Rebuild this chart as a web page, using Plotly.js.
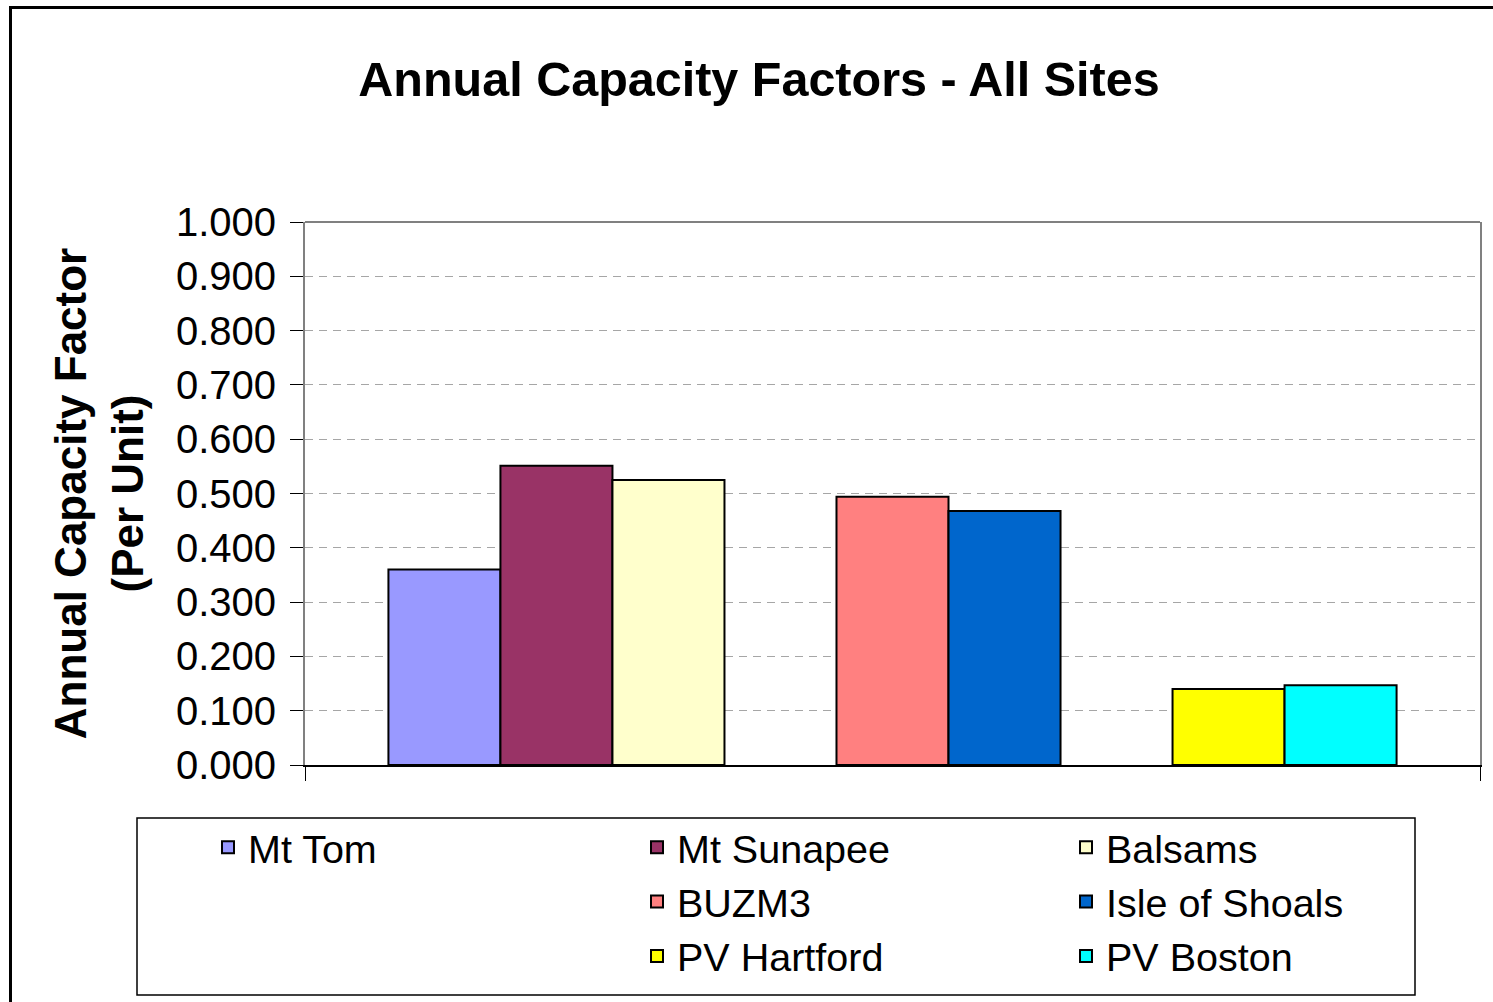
<!DOCTYPE html>
<html>
<head>
<meta charset="utf-8">
<script src="https://cdn.plot.ly/plotly-3.0.1.min.js"></script>
<style>
  html, body { margin: 0; padding: 0; background: #ffffff; overflow: hidden; }
  #chart { width: 1493px; height: 1002px; position: absolute; left: 0; top: 0; }
  #frame { position: absolute; left: 9px; top: 6px; width: 1600px; height: 1100px;
           border: 3px solid #000; pointer-events: none; z-index: 5; }
</style>
</head>
<body>
<div id="chart"></div>
<div id="frame"></div>
<script>
// ---- data ----
const category = ["All Sites"];
const seriesNames = ["Mt Tom", "Mt Sunapee", "Balsams", " ", "BUZM3", "Isle of Shoals", "  ", "PV Hartford", "PV Boston"];
const capacityFactors = [0.360, 0.551, 0.525, null, 0.494, 0.468, null, 0.140, 0.147];
const seriesColors = ["#9999FF", "#993366", "#FFFFCC", "rgba(0,0,0,0)", "#FF8080", "#0066CC", "rgba(0,0,0,0)", "#FFFF00", "#00FFFF"];
const yTickValues = [0, 0.1, 0.2, 0.3, 0.4, 0.5, 0.6, 0.7, 0.8, 0.9, 1.0];

// ---- layout helpers ----
const W = 1493, H = 1002;
const M = { l: 305, r: 13, t: 222, b: 237 };
const plotW = W - M.l - M.r, plotH = H - M.t - M.b;
const px2x = p => (p - M.l) / plotW;
const px2y = p => (H - M.b - p) / plotH;

const FONT = '"Liberation Sans", Arial, sans-serif';

const traces = seriesNames.map((name, i) => {
  const spacer = name.trim() === "";
  return {
    type: "bar",
    x: category,
    y: [capacityFactors[i]],
    name: name,
    marker: {
      color: seriesColors[i],
      line: { color: spacer ? "rgba(0,0,0,0)" : "#000000", width: spacer ? 0 : 2 }
    },
    hoverinfo: spacer ? "skip" : "name+y"
  };
});

const layout = {
  width: W, height: H,
  margin: { l: M.l, r: M.r, t: M.t, b: M.b, autoexpand: false },
  paper_bgcolor: "#ffffff",
  plot_bgcolor: "#ffffff",
  font: { family: FONT, color: "#000000" },
  title: {
    text: "Annual Capacity Factors - All Sites",
    font: { family: FONT, size: 48.5, weight: "bold", color: "#000000" },
    xref: "paper", x: px2x(759), xanchor: "center",
    yref: "container", y: 1 - 79 / H, yanchor: "middle"
  },
  barmode: "group",
  bargap: 0.142,
  bargroupgap: 0,
  showlegend: true,
  xaxis: {
    type: "category",
    showticklabels: false,
    ticks: "outside", tickson: "boundaries", ticklen: 14, tickwidth: 1, tickcolor: "#000000",
    showline: true, linecolor: "#000000", linewidth: 2,
    showgrid: false, zeroline: false, fixedrange: true
  },
  yaxis: {
    range: [0, 1],
    tickvals: yTickValues,
    tickformat: ".3f",
    ticks: "outside", ticklen: 13, tickwidth: 1, tickcolor: "#000000",
    ticklabelstandoff: 6,
    tickfont: { family: FONT, size: 40, color: "#000000" },
    showline: true, linecolor: "#808080", linewidth: 2, mirror: true,
    showgrid: true, gridcolor: "#a6a6a6", gridwidth: 1, griddash: "8px,6px",
    zeroline: false, fixedrange: true,
    title: {
      text: "Annual Capacity Factor<br>(Per Unit)",
      font: { family: FONT, size: 44, weight: "bold", color: "#000000" },
      standoff: 18
    }
  },
  legend: {
    orientation: "h",
    x: px2x(208), xanchor: "left",
    y: px2y(815), yanchor: "top",
    entrywidth: 384, entrywidthmode: "pixels",
    font: { family: FONT, size: 39.5, color: "#000000" },
    bgcolor: "rgba(0,0,0,0)", borderwidth: 0,
    traceorder: "normal"
  },
  shapes: [
    { type: "line", xref: "paper", yref: "paper", x0: 0, x1: 1, y0: 1, y1: 1,
      line: { color: "#808080", width: 2 }, layer: "above" },
    { type: "rect", xref: "paper", yref: "paper",
      x0: px2x(137), x1: px2x(1415), y0: px2y(995), y1: px2y(818),
      line: { color: "#000000", width: 1.5 }, fillcolor: "rgba(0,0,0,0)", layer: "below" }
  ]
};

Plotly.newPlot("chart", traces, layout, { displayModeBar: false, staticPlot: true });
</script>
</body>
</html>
